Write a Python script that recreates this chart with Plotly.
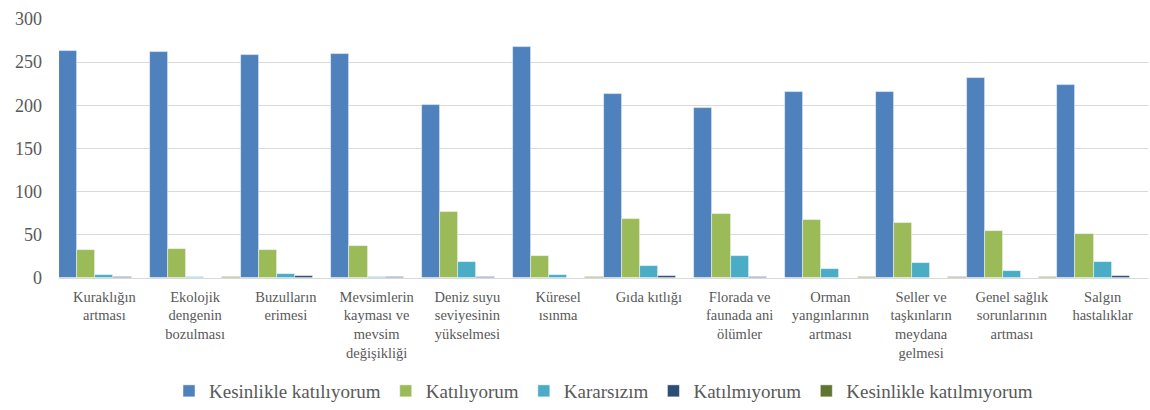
import plotly.graph_objects as go

# ── Data ──────────────────────────────────────────────────────────────────────
CATEGORIES = [
    "Kuraklığın<br>artması",
    "Ekolojik<br>dengenin<br>bozulması",
    "Buzulların<br>erimesi",
    "Mevsimlerin<br>kayması ve<br>mevsim<br>değişikliği",
    "Deniz suyu<br>seviyesinin<br>yükselmesi",
    "Küresel<br>ısınma",
    "Gıda kıtlığı",
    "Florada ve<br>faunada ani<br>ölümler",
    "Orman<br>yangınlarının<br>artması",
    "Seller ve<br>taşkınların<br>meydana<br>gelmesi",
    "Genel sağlık<br>sorunlarının<br>artması",
    "Salgın<br>hastalıklar",
]

kesinlikle_katiliyorum = [263, 262, 258, 259, 200, 268, 213, 197, 216, 215, 232, 224]
katiliyorum = [32, 34, 33, 37, 77, 25, 68, 74, 67, 64, 55, 51]
kararsizim = [4, 1, 5, 1, 19, 4, 14, 26, 11, 17, 8, 19]
katilmiyorum = [1, 0, 2, 1, 1, 0, 2, 1, 0, 0, 0, 2]
kesinlikle_katilmiyorum = [0, 1, 0, 0, 0, 1, 0, 0, 1, 1, 1, 0]

SERIES = [
    ("Kesinlikle katılıyorum", kesinlikle_katiliyorum, "#4F81BD"),
    ("Katılıyorum", katiliyorum, "#9BBB59"),
    ("Kararsızım", kararsizim, "#4BACC6"),
    ("Katılmıyorum", katilmiyorum, "#2C4D75"),
    ("Kesinlikle katılmıyorum", kesinlikle_katilmiyorum, "#5F7530"),
]

FONT = "'Liberation Serif', 'Times New Roman', serif"
GREY = "#595959"

fig = go.Figure()
for name, vals, color in SERIES:
    fig.add_trace(go.Bar(
        x=CATEGORIES, y=vals, name=name,
        marker=dict(color=color, line=dict(color="rgba(255,255,255,0.6)", width=0.8)),
    ))

fig.update_layout(
    width=1150, height=410,
    paper_bgcolor="white", plot_bgcolor="white",
    font=dict(family=FONT, color=GREY, size=14),
    barmode="group", bargap=0.0, bargroupgap=0.0,
    margin=dict(l=59, r=2, t=19, b=132),
    showlegend=True,
    legend=dict(
        orientation="h", x=0.5, xanchor="center",
        yref="container", y=-0.012, yanchor="bottom",
        font=dict(size=19, color=GREY, family=FONT), itemwidth=30, traceorder="normal",
    ),
)
fig.update_xaxes(
    showgrid=False, showline=False, ticks="", automargin=False,
    tickfont=dict(size=14.5, color=GREY, family=FONT), tickangle=0,
    ticklabelstandoff=8,
)
fig.update_yaxes(
    range=[0, 300], dtick=50, showgrid=True, gridcolor="#D9D9D9", gridwidth=1,
    zeroline=True, zerolinecolor="#D9D9D9", zerolinewidth=1, automargin=False,
    tickfont=dict(size=18, color=GREY, family=FONT), ticklabelstandoff=16,
)

fig.write_html("out.html", config={"displayModeBar": False},
               post_script="document.body.style.margin='0';")
